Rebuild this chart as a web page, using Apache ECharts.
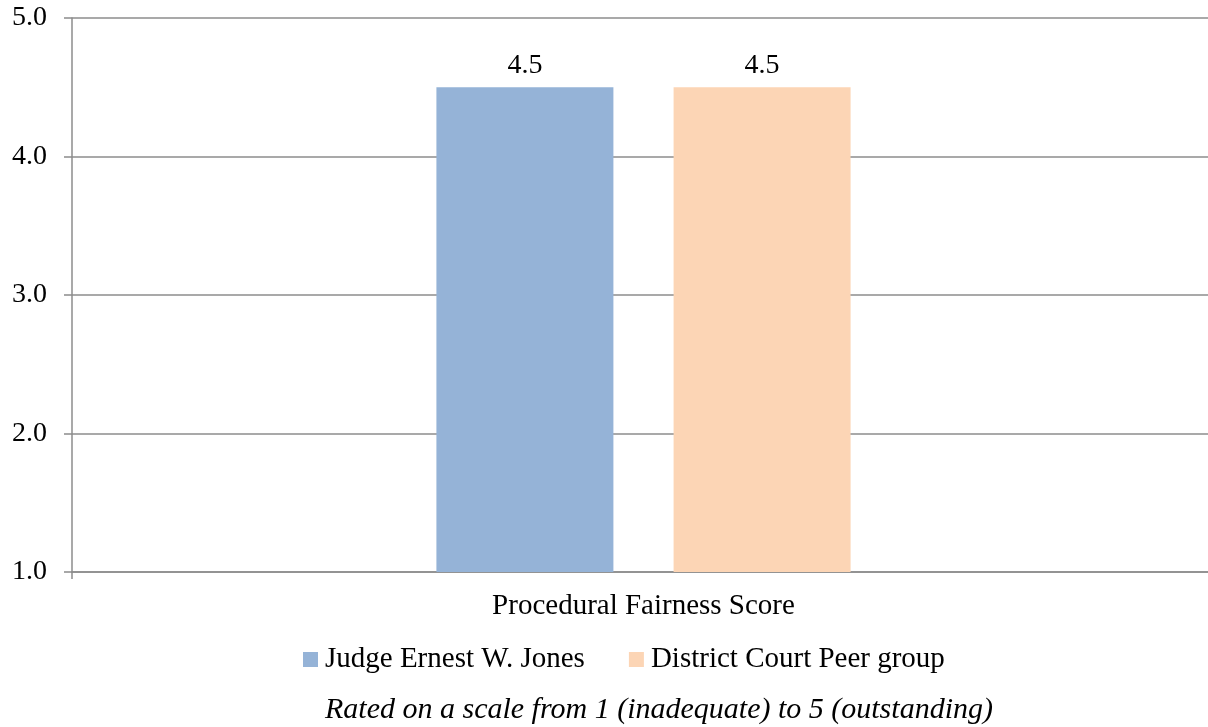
<!DOCTYPE html>
<html>
<head>
<meta charset="utf-8">
<script src="https://cdn.jsdelivr.net/npm/echarts@6/dist/echarts.min.js"></script>
<style>html,body{margin:0;padding:0;background:#fff}#c{width:1208px;height:727px}</style>
</head>
<body>
<div id="c"></div>
<script>
const categories = ['Procedural Fairness Score'];
const seriesNames = ['Judge Ernest W. Jones', 'District Court Peer group'];
const judgeValues = [4.5];
const peerValues = [4.5];
const yTicks = [1, 2, 3, 4, 5];
const note = 'Rated on a scale from 1 (inadequate) to 5 (outstanding)';

const font = '"Liberation Serif", "Times New Roman", serif';
const chart = echarts.init(document.getElementById('c'));
const labelCfg = {
  show: true, position: 'top', distance: 8,
  fontFamily: font, fontSize: 28, color: '#000',
  formatter: p => p.value.toFixed(1)
};
chart.setOption({
  animation: false,
  textStyle: { fontFamily: font },
  grid: { left: 72, width: 1143, top: 18, bottom: 155, containLabel: false, outerBoundsMode: 'none' },
  title: {
    text: note, left: 320, top: 690,
    textStyle: { fontFamily: font, fontSize: 30, fontStyle: 'italic', fontWeight: 'normal', color: '#000' }
  },
  legend: {
    data: seriesNames, top: 640, left: 298, itemWidth: 15, itemHeight: 15, itemGap: 44,
    icon: 'rect',
    textStyle: { fontFamily: font, fontSize: 29, color: '#000', padding: [0, 0, 0, 2] }
  },
  xAxis: {
    type: 'category', data: categories,
    axisLine: { lineStyle: { color: '#8c8c8c', width: 1.5 } },
    axisTick: { show: true, length: 7, lineStyle: { color: '#8c8c8c', width: 1.5 } },
    axisLabel: { fontFamily: font, fontSize: 29, color: '#000', margin: 20 }
  },
  yAxis: {
    type: 'value', min: yTicks[0], max: yTicks[yTicks.length - 1], interval: 1,
    axisLine: { show: true, lineStyle: { color: '#8c8c8c', width: 1.5 } },
    axisTick: { show: true, length: 8, lineStyle: { color: '#8c8c8c', width: 1.5 } },
    splitLine: { lineStyle: { color: '#8c8c8c', width: 1.5 } },
    axisLabel: { fontFamily: font, fontSize: 28, color: '#000', margin: 25, formatter: v => v.toFixed(1) }
  },
  series: [
    { name: seriesNames[0], type: 'bar', data: judgeValues, barWidth: 177, barGap: '34%',
      itemStyle: { color: '#95B3D7' }, label: labelCfg },
    { name: seriesNames[1], type: 'bar', data: peerValues, barWidth: 177, barGap: '34%',
      itemStyle: { color: '#FCD5B5' }, label: labelCfg }
  ]
});
</script>
</body>
</html>
